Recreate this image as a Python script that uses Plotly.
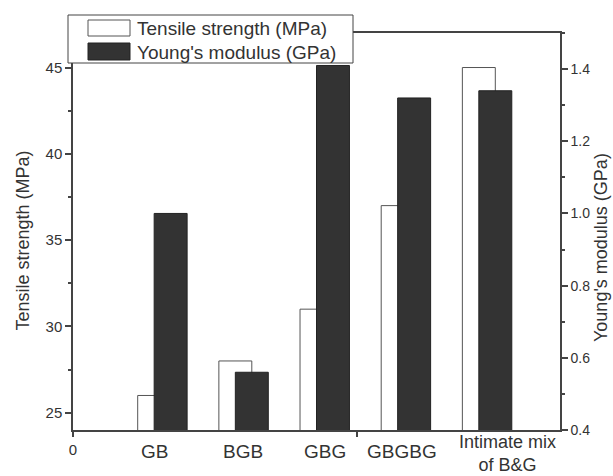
import numpy as np
import plotly.graph_objects as go

# ---- data ----
categories = ["GB", "BGB", "GBG", "GBGBG", "Intimate mix<br>of B&G"]
tensile_mpa = [26.0, 28.0, 31.0, 37.0, 45.0]
modulus_gpa = [1.00, 0.56, 1.41, 1.32, 1.34]
series_names = ["Tensile strength (MPa)", "Young's modulus (GPa)"]
left_ticks = [25, 30, 35, 40, 45]

# ---- layout helpers ----
W, H = 613, 476
L, R, T, B = 73, 53, 33, 46
PW, PH = W - L - R, H - T - B
def px2x(px):
    return (px - L) / PW
def py2y(py):
    return (H - B - py) / PH

FONT = "Liberation Sans, Arial, sans-serif"
INK = "#333333"
AXC = "#444444"
DARK = "#333333"

pos = np.arange(1, len(categories) + 1)
bw = 0.406

fig = go.Figure()
fig.add_trace(go.Bar(
    x=pos, y=tensile_mpa, name=series_names[0], width=bw, offset=-bw / 2,
    marker=dict(color="white", line=dict(color="#555555", width=1)),
    yaxis="y", showlegend=False))
fig.add_trace(go.Bar(
    x=pos, y=modulus_gpa, name=series_names[1], width=bw, offset=0,
    marker=dict(color=DARK, line=dict(color="#222222", width=1)),
    yaxis="y2", showlegend=False))

tickfont = dict(family=FONT, size=15, color=INK)
fig.update_layout(
    width=W, height=H,
    margin=dict(l=L, r=R, t=T, b=B, autoexpand=False),
    paper_bgcolor="white", plot_bgcolor="white",
    barmode="overlay",
    font=dict(family=FONT, color=INK),
    xaxis=dict(range=[0, 6], showline=True, linecolor=AXC, linewidth=1.5, mirror=True,
               tickvals=[0, 3.5], ticktext=["0", ""], ticks="outside", ticklen=5,
               tickwidth=1.5, tickcolor=AXC, showgrid=False, zeroline=False,
               tickfont=tickfont, automargin=False),
    yaxis=dict(range=[24, 47], showline=True, linecolor=AXC, linewidth=1.5,
               tickvals=left_ticks, ticks="outside", ticklen=6, tickwidth=1.5, tickcolor=AXC,
               minor=dict(dtick=2.5, tick0=25, ticks="outside", ticklen=3, tickwidth=1.5, tickcolor=AXC),
               showgrid=False, zeroline=False, tickfont=tickfont, automargin=False),
    yaxis2=dict(range=[0.4, 1.5], overlaying="y", side="right", anchor="x",
                showline=True, linecolor=AXC, linewidth=1.5,
                tick0=0.4, dtick=0.2, tickformat=".1f", ticks="outside", ticklen=6,
                tickwidth=1.5, tickcolor=AXC,
                minor=dict(dtick=0.1, tick0=0.4, ticks="outside", ticklen=3, tickwidth=1.5, tickcolor=AXC),
                showgrid=False, zeroline=False,
                tickfont=dict(family=FONT, size=14, color=INK), automargin=False),
)

# category labels
label_dx = [0.0, 0.1, 0.1, 0.05, 0.35]
label_dy = [-9, -9, -9, -9, 0]
for xc, lab, dx, dy in zip(pos, categories, label_dx, label_dy):
    fig.add_annotation(x=xc + dx, xref="x", y=0, yref="paper", yanchor="top", yshift=dy,
                       text=lab, showarrow=False, align="center",
                       font=dict(family=FONT, size=18 if "<br>" in lab else 19, color=INK))

# axis titles
fig.add_annotation(x=px2x(22.5), xref="paper", y=py2y(241), yref="paper",
                   text=series_names[0], textangle=-90, showarrow=False,
                   xanchor="center", yanchor="middle",
                   font=dict(family=FONT, size=18, color=INK))
fig.add_annotation(x=px2x(601), xref="paper", y=py2y(248), yref="paper",
                   text=series_names[1], textangle=-90, showarrow=False,
                   xanchor="center", yanchor="middle",
                   font=dict(family=FONT, size=18, color=INK))

# manual legend
fig.add_shape(type="rect", xref="paper", yref="paper", layer="above",
              x0=px2x(68), x1=px2x(353), y0=py2y(63), y1=py2y(15),
              fillcolor="white", line=dict(color=AXC, width=1))
fig.add_shape(type="rect", xref="paper", yref="paper", layer="above",
              x0=px2x(88), x1=px2x(130), y0=py2y(36), y1=py2y(20),
              fillcolor="white", line=dict(color="#555555", width=1))
fig.add_shape(type="rect", xref="paper", yref="paper", layer="above",
              x0=px2x(88), x1=px2x(130), y0=py2y(60), y1=py2y(43),
              fillcolor=DARK, line=dict(color="#222222", width=1))
for name, yc in zip(series_names, [28, 52]):
    fig.add_annotation(x=px2x(135), xref="paper", y=py2y(yc), yref="paper",
                       xanchor="left", yanchor="middle", text=name, showarrow=False,
                       font=dict(family=FONT, size=19, color=INK))

fig.write_html("out.html")
